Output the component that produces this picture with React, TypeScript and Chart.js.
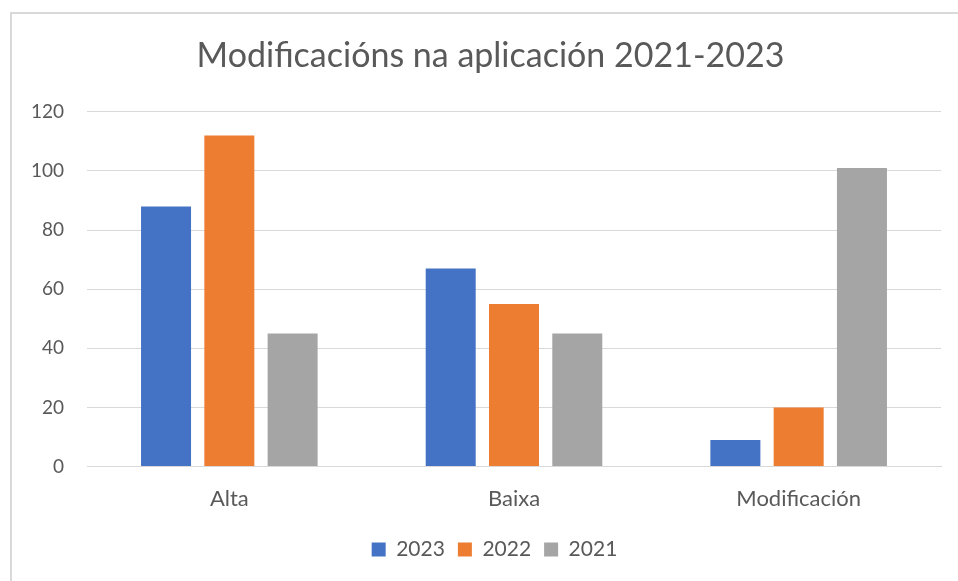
import React, { useEffect, useRef } from "react";
import { Chart, registerables } from "chart.js";

Chart.register(...registerables);

const categories = ["Alta", "Baixa", "Modificación"];
const series2023 = [88, 67, 9];
const series2022 = [112, 55, 20];
const series2021 = [45, 45, 101];
const seriesLabels = ["2023", "2022", "2021"];
const yTicks = [0, 20, 40, 60, 80, 100, 120];

const FONT = "Lato";

const shiftPlugin = {
  id: "shiftBlocks",
  afterLayout(chart: any) {
    const t = chart.titleBlock;
    if (t) { t.left += 10; t.right += 10; }
    const l = chart.legend;
    if (l) { l.left += 14; l.right += 14; }
  },
};

export default function App() {
  const ref = useRef<HTMLCanvasElement | null>(null);
  useEffect(() => {
    if (!ref.current) return;
    const chart = new Chart(ref.current, {
      type: "bar",
      data: {
        labels: categories,
        datasets: [
          { label: seriesLabels[0], data: series2023, backgroundColor: "#4472C4" },
          { label: seriesLabels[1], data: series2022, backgroundColor: "#ED7D31" },
          { label: seriesLabels[2], data: series2021, backgroundColor: "#A5A5A5" },
        ],
      },
      plugins: [shiftPlugin],
      options: {
        animation: false,
        responsive: false,
        maintainAspectRatio: false,
        layout: { padding: { left: 20, right: 17, top: 0, bottom: 11 } },
        datasets: { bar: { categoryPercentage: 0.667, barPercentage: 0.79 } },
        plugins: {
          title: {
            display: true,
            text: "Modificacións na aplicación 2021-2023",
            color: "#595959",
            font: { family: FONT, size: 34, weight: "normal" },
            padding: { top: 36, bottom: 35 },
          },
          legend: {
            position: "bottom",
            labels: {
              color: "#595959",
              font: { family: FONT, size: 21 },
              boxWidth: 14,
              boxHeight: 14,
              padding: 13,
            },
          },
          tooltip: { enabled: false },
        },
        scales: {
          x: {
            grid: { display: false, drawTicks: false },
            border: { display: true, color: "#D9D9D9", width: 1 },
            ticks: { color: "#595959", font: { family: FONT, size: 22 }, padding: 19 },
            afterFit: (axis: any) => { axis.height -= 5; },
          },
          y: {
            min: 0,
            max: 120,
            afterFit: (axis: any) => { axis.width = 67; },
            afterBuildTicks: (axis: any) => { axis.ticks = yTicks.map((v) => ({ value: v })); },
            grid: { color: "#D9D9D9", drawTicks: false },
            border: { display: false },
            ticks: { color: "#595959", font: { family: FONT, size: 19 }, padding: 23 },
          },
        },
      },
    });
    return () => chart.destroy();
  }, []);
  return (
    <div style={{ position: "fixed", left: 0, top: 0, width: 958, height: 581, background: "#fff" }}>
      <div style={{ position: "absolute", left: 10, top: 12, width: 960, height: 600, borderLeft: "2px solid #D9D9D9", borderTop: "2px solid #D9D9D9" }} />
      <canvas ref={ref} width={958} height={581} style={{ position: "absolute", left: 0, top: 0 }} />
    </div>
  );
}
